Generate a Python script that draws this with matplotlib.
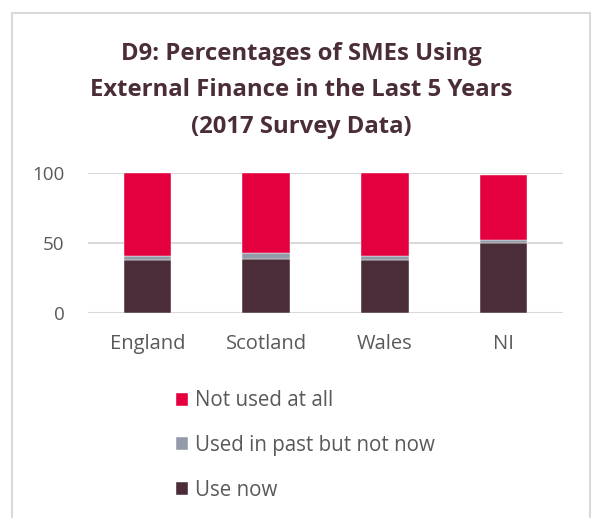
import matplotlib
matplotlib.use("Agg")
import matplotlib.pyplot as plt
from matplotlib.patches import Rectangle

categories = ["England", "Scotland", "Wales", "NI"]
use_now = [38, 39, 38, 50.5]
used_past = [3, 4, 3, 2]
not_used = [59, 57, 59, 46.5]
yticks = [0, 50, 100]

c_red = "#E4003F"
c_gray = "#949BA8"
c_dark = "#4A2D38"
txt = "#595959"

W, H = 592, 518
fig = plt.figure(figsize=(W / 100, H / 100), dpi=100)
plt.rcParams['font.family'] = ['Open Sans', 'DejaVu Sans']

fig.patches.append(Rectangle((12 / W, -0.1), (590 - 12) / W, 1.1 - 13 / H,
                             transform=fig.transFigure, fill=False,
                             edgecolor="#d9d9d9", linewidth=1.5))

ax = fig.add_axes([88 / W, (H - 313.3) / H, 475 / W, 140 / H])
x = list(range(len(categories)))
bw = 0.4
ax.bar(x, use_now, bw, color=c_dark, label="Use now", edgecolor="white", linewidth=0.3, zorder=3)
bottom2 = use_now
ax.bar(x, used_past, bw, bottom=bottom2, color=c_gray, label="Used in past but not now", edgecolor="white", linewidth=0.3, zorder=3)
bottom3 = [a + b for a, b in zip(use_now, used_past)]
ax.bar(x, not_used, bw, bottom=bottom3, color=c_red, label="Not used at all", edgecolor="white", linewidth=0.3, zorder=3)

ax.set_xlim(-0.5, len(categories) - 0.5)
ax.set_ylim(0, 100)
ax.set_yticks(yticks)
ax.set_xticks(x)
ax.set_xticklabels(categories)
ax.tick_params(length=0, colors=txt)
ax.tick_params(axis='x', pad=15, labelsize=14.5)
ax.tick_params(axis='y', pad=17, labelsize=13.5)
ax.grid(axis='y', color="#d9d9d9", linewidth=1.5, zorder=0)
for s in ax.spines.values():
    s.set_visible(False)

title_lines = ["D9: Percentages of SMEs Using",
               "External Finance in the Last 5 Years",
               "(2017 Survey Data)"]
for i, (line, yy) in enumerate(zip(title_lines, [54, 90, 127])):
    fig.text(301 / W, 1 - yy / H, line, ha="center", va="center",
             fontsize=17.2, fontweight="bold", color="#4A2D38")

handles, labels = ax.get_legend_handles_labels()
leg = fig.legend(handles[::-1], labels[::-1], loc="upper left",
                 bbox_to_anchor=(157 / W, 1 - 372 / H), frameon=False,
                 fontsize=14.8, labelcolor=txt, labelspacing=1.15,
                 handlelength=0.6, handleheight=0.6, handletextpad=0.35)

fig.savefig("out.png", dpi=100)
